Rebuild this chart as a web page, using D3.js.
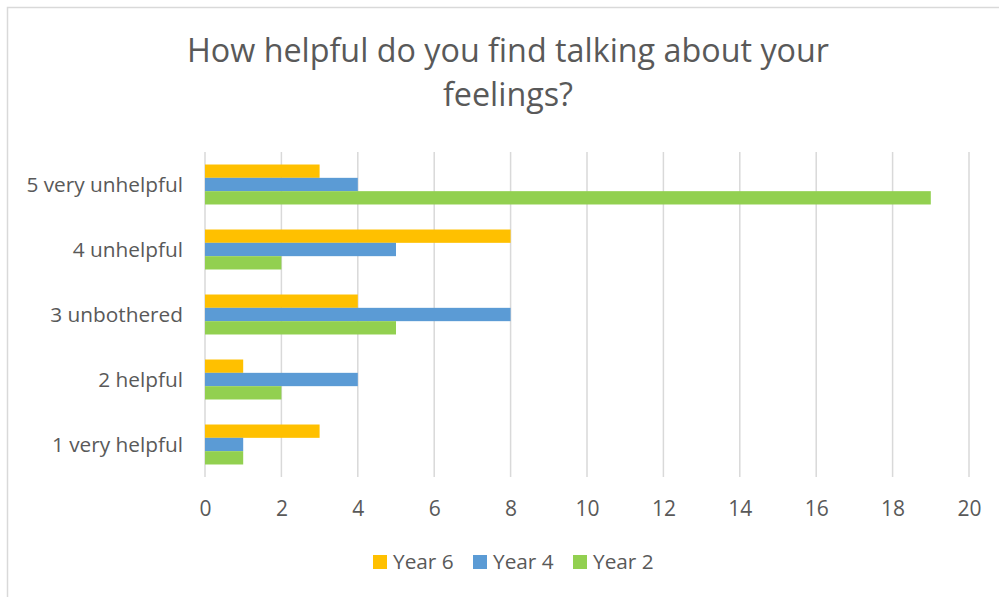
<!DOCTYPE html>
<html>
<head>
<meta charset="utf-8">
<script src="https://cdn.jsdelivr.net/npm/d3@7"></script>
<style>
  html, body { margin: 0; padding: 0; background: #fff; }
  svg { display: block; }
  text { font-family: "Open Sans", Lato, sans-serif; fill: #595959; }
</style>
</head>
<body>
<svg id="chart" width="999" height="597"></svg>
<script>
// Survey responses, listed top to bottom as displayed
const categories = ["5 very unhelpful", "4 unhelpful", "3 unbothered", "2 helpful", "1 very helpful"];
const seriesNames = ["Year 6", "Year 4", "Year 2"];
const year6 = [3, 8, 4, 1, 3];
const year4 = [4, 5, 8, 4, 1];
const year2 = [19, 2, 5, 2, 1];
const xTicks = [0, 2, 4, 6, 8, 10, 12, 14, 16, 18, 20];
const colors = ["#FFC000", "#5B9BD5", "#92D050"];

const seriesValues = [year6, year4, year2];
const rows = categories.map((c, i) => ({
  category: c,
  values: seriesNames.map((s, k) => ({ series: s, value: seriesValues[k][i], color: colors[k] }))
}));

const FONT = "'Open Sans', Lato, sans-serif";
const svg = d3.select("#chart");

// outer frame
svg.append("rect")
  .attr("x", 7.5).attr("y", 7.5)
  .attr("width", 1010).attr("height", 610)
  .attr("fill", "none").attr("stroke", "#D9D9D9").attr("stroke-width", 1.5);

// title
const title = svg.append("text")
  .attr("text-anchor", "middle")
  .attr("font-size", 32.3);
title.append("tspan").attr("x", 508).attr("y", 62).text("How helpful do you find talking about your");
title.append("tspan").attr("x", 508).attr("y", 106).text("feelings?");

const plot = { left: 205, right: 969, top: 152, bottom: 477 };

const x = d3.scaleLinear().domain([0, 20]).range([plot.left, plot.right]);
const y = d3.scaleBand().domain(categories).range([plot.top, plot.bottom]).paddingInner(0.385).paddingOuter(0.1925);
const ySub = d3.scaleBand().domain(seriesNames).range([0, y.bandwidth()]);

// vertical gridlines
svg.append("g")
  .selectAll("line")
  .data(xTicks)
  .join("line")
  .attr("x1", d => x(d)).attr("x2", d => x(d))
  .attr("y1", plot.top).attr("y2", plot.bottom)
  .attr("stroke", "#D9D9D9").attr("stroke-width", 1.5);

// bars
const groups = svg.append("g")
  .selectAll("g")
  .data(rows)
  .join("g")
  .attr("transform", d => `translate(0,${y(d.category)})`);

groups.selectAll("rect")
  .data(d => d.values)
  .join("rect")
  .attr("x", x(0))
  .attr("y", d => ySub(d.series))
  .attr("width", d => x(d.value) - x(0))
  .attr("height", ySub.bandwidth())
  .attr("fill", d => d.color);

// x axis labels
const xAxis = d3.axisBottom(x).tickValues(xTicks).tickSize(0).tickPadding(0);
const gx = svg.append("g")
  .attr("transform", `translate(0,${plot.bottom})`)
  .call(xAxis);
gx.select(".domain").remove();
gx.selectAll("text")
  .attr("y", 39)
  .attr("dy", 0)
  .attr("font-size", 21)
  .attr("font-family", FONT)
  .attr("fill", "#595959");

// category labels
const yAxis = d3.axisLeft(y).tickSize(0).tickPadding(0);
const gy = svg.append("g")
  .attr("transform", `translate(${plot.left - 22},0)`)
  .call(yAxis);
gy.select(".domain").remove();
gy.selectAll("text")
  .attr("dy", "0.35em")
  .attr("font-size", 20.8)
  .attr("font-family", FONT)
  .attr("fill", "#595959");

// legend
const legendX = [373, 473, 573];
const legend = svg.append("g")
  .selectAll("g")
  .data(seriesNames)
  .join("g")
  .attr("transform", (d, i) => `translate(${legendX[i]},555)`);
legend.append("rect")
  .attr("width", 14).attr("height", 14)
  .attr("fill", (d, i) => colors[i]);
legend.append("text")
  .attr("x", 20).attr("y", 14)
  .attr("font-size", 20.8)
  .text(d => d);
</script>
</body>
</html>
